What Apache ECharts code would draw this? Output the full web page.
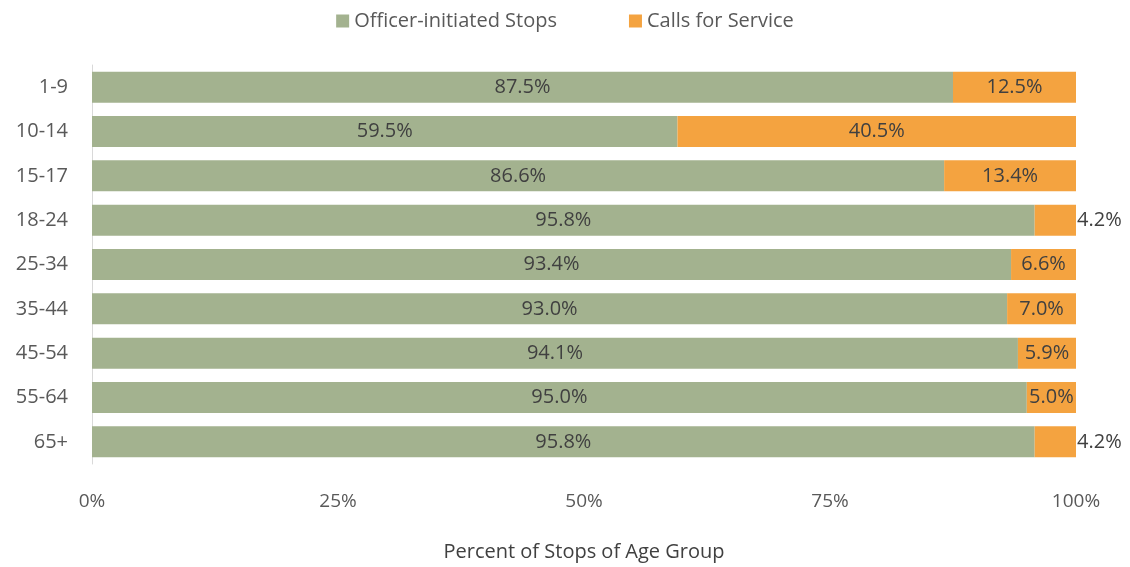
<!DOCTYPE html>
<html>
<head>
<meta charset="utf-8">
<script src="https://cdn.jsdelivr.net/npm/echarts@6/dist/echarts.min.js"></script>
<style>
  html, body { margin: 0; padding: 0; background: #fff; }
  #main { width: 1130px; height: 567px; }
</style>
</head>
<body>
<div id="main"></div>
<script>
const ageGroups = ["1-9", "10-14", "15-17", "18-24", "25-34", "35-44", "45-54", "55-64", "65+"];
const officerStops = [87.5, 59.5, 86.6, 95.8, 93.4, 93.0, 94.1, 95.0, 95.8];
const serviceCalls = [12.5, 40.5, 13.4, 4.2, 6.6, 7.0, 5.9, 5.0, 4.2];
const xTicks = [0, 25, 50, 75, 100];

const textColor = "#404040";
const font = "'Open Sans', sans-serif";

let chart = echarts.init(document.getElementById("main"));

let option = {
  animation: false,
  legend: {
    top: 6,
    left: "center",
    itemWidth: 13,
    itemHeight: 13,
    itemGap: 72,
    icon: "rect",
    textStyle: { fontFamily: font, fontSize: 20, color: "#595959" },
  },
  grid: { left: 92, right: 54, top: 65, bottom: 93 },
  xAxis: {
    type: "value",
    min: xTicks[0],
    max: xTicks[xTicks.length - 1],
    interval: 25,
    name: "Percent of Stops of Age Group",
    nameLocation: "middle",
    nameGap: 78,
    nameTextStyle: { fontFamily: font, fontSize: 20, color: textColor },
    axisLine: { show: false },
    axisTick: { show: false },
    splitLine: { show: false },
    axisLabel: {
      formatter: "{value}%",
      margin: 28,
      fontFamily: font,
      fontSize: 19,
      color: "#595959",
    },
  },
  yAxis: {
    type: "category",
    data: ageGroups,
    inverse: true,
    axisLine: { show: true, lineStyle: { color: "#d9d9d9", width: 1 } },
    axisTick: { show: false },
    axisLabel: {
      margin: 24,
      fontFamily: font,
      fontSize: 20,
      color: "#595959",
    },
  },
  series: [
    {
      name: "Officer-initiated Stops",
      type: "bar",
      stack: "total",
      barCategoryGap: "30%",
      data: officerStops,
      itemStyle: { color: "#a3b28f" },
      label: {
        show: true,
        position: "inside",
        formatter: (p) => p.value.toFixed(1) + "%",
        fontFamily: font,
        fontSize: 20,
        color: textColor,
      },
    },
    {
      name: "Calls for Service",
      type: "bar",
      stack: "total",
      data: serviceCalls.map((v) => ({
        value: v,
        label: { position: v < 4.5 ? "right" : "inside", distance: 1 },
      })),
      itemStyle: { color: "#f4a340" },
      label: {
        show: true,
        formatter: (p) => p.value.toFixed(1) + "%",
        fontFamily: font,
        fontSize: 20,
        color: textColor,
      },
    },
  ],
};

chart.setOption(option);
</script>
</body>
</html>
